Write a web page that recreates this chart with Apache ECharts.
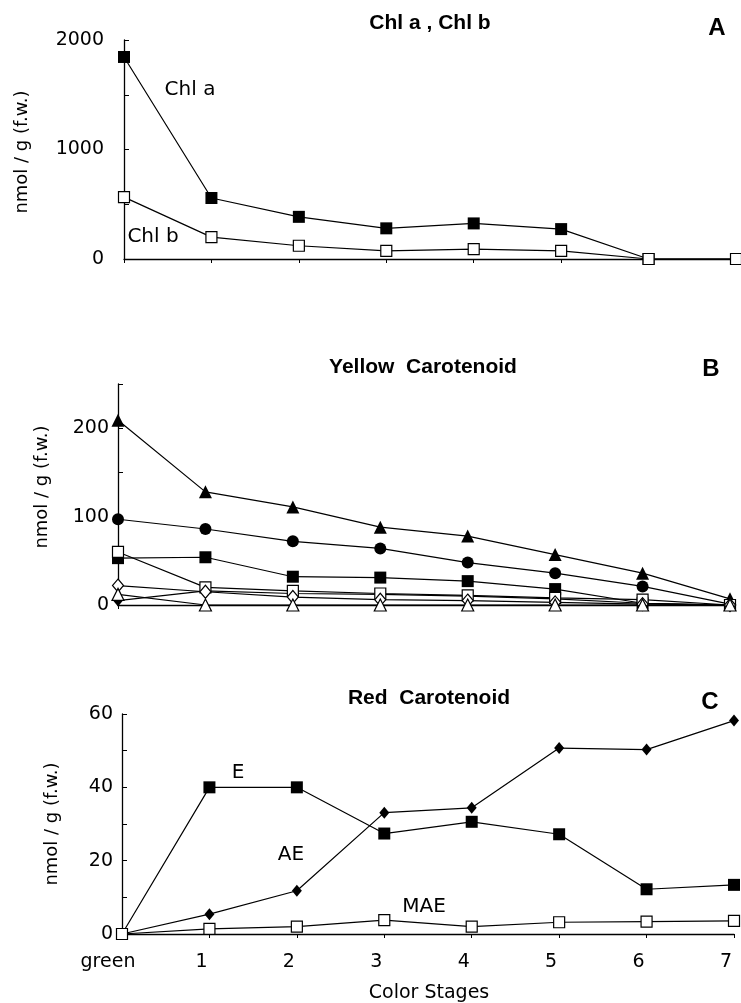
<!DOCTYPE html>
<html>
<head>
<meta charset="utf-8">
<script src="https://cdn.jsdelivr.net/npm/echarts@6/dist/echarts.min.js"></script>
<style>
  html, body { margin: 0; padding: 0; background: #fff; }
  #main { width: 741px; height: 1003px; }
</style>
</head>
<body>
<div id="main"></div>
<script type="text/javascript">
    // 颜色阶段
    var stages = ['green', '1', '2', '3', '4', '5', '6', '7'];

    // A: 叶绿素
    var chlA = [1845, 557, 385, 280, 325, 273, 0, 0];
    var chlB = [565, 200, 121, 75, 91, 75, 0, 0];

    // B: 黄色类胡萝卜素
    var yFilledTri = [209, 128, 111, 88, 78, 57, 36, 7];
    var yFilledCircle = [97, 86, 72, 64, 48, 36, 21, 1];
    var yFilledSquare = [53, 54, 32, 31, 27, 18, 2, 0];
    var yFilledDiamond = [5, 16, 13, 12, 10, 7, 2, 0];
    var yOpenSquare = [60, 20, 16, 13, 11, 8, 6, 0];
    var yOpenDiamond = [22, 15, 9, 6, 5, 3, 1, 0];
    var yOpenTri = [12, 0, 0, 0, 0, 0, 0, 0];

    // C: 红色类胡萝卜素
    var redE = [0, 40, 40, 27.4, 30.6, 27.2, 12.2, 13.4];
    var redAE = [0, 5.4, 11.8, 33.1, 34.4, 50.7, 50.3, 58.2];
    var redMAE = [0, 1.4, 2.0, 3.8, 2.0, 3.2, 3.4, 3.6];

    var myChart = echarts.init(document.getElementById('main'));

    var black = '#000';

    function xAxisFor(idx, showLabel) {
        return {
            type: 'category',
            gridIndex: idx,
            data: stages,
            boundaryGap: false,
            axisLine: { lineStyle: { color: black, width: 1.3 } },
            axisTick: { show: true, interval: 0, length: 4, lineStyle: { color: black } },
            axisLabel: {
                show: showLabel,
                interval: 0,
                margin: 19,
                color: black,
                fontFamily: 'DejaVu Sans',
                fontSize: 19,
                formatter: function (v) {
                    return v === 'green' ? '{g|' + v + '}' : '{n|' + v + '}';
                },
                rich: {
                    g: { fontFamily: 'DejaVu Sans', fontSize: 19, color: black, padding: [0, 28, 0, 0] },
                    n: { fontFamily: 'DejaVu Sans', fontSize: 19, color: black, padding: [0, 16, 0, 0] }
                }
            },
            splitLine: { show: false }
        };
    }

    function yAxisFor(idx, max, interval, labelStep, margin) {
        return {
            type: 'value',
            gridIndex: idx,
            min: 0,
            max: max,
            interval: interval,
            axisLine: { show: true, lineStyle: { color: black, width: 1.3 } },
            axisTick: { show: true, inside: true, length: 5, lineStyle: { color: black } },
            axisLabel: {
                margin: margin,
                color: black,
                fontFamily: 'DejaVu Sans',
                fontSize: 19,
                formatter: function (v) { return v % labelStep === 0 ? String(v) : ''; }
            },
            splitLine: { show: false }
        };
    }

    function line(idx, data, symbol, size, filled) {
        return {
            type: 'line',
            xAxisIndex: idx,
            yAxisIndex: idx,
            data: data,
            symbol: symbol,
            symbolSize: size,
            showSymbol: true,
            lineStyle: { color: black, width: 1.2 },
            itemStyle: filled
                ? { color: black, borderColor: black, borderWidth: 0 }
                : { color: '#fff', borderColor: black, borderWidth: 1.2 },
            emphasis: { disabled: true }
        };
    }

    function txt(x, y, s, font, rot) {
        return {
            type: 'text',
            x: x,
            y: y,
            rotation: rot || 0,
            style: { text: s, font: font, fill: black, align: 'center', verticalAlign: 'middle' }
        };
    }

    var titleFont = 'bold 21px "Liberation Sans"';
    var letterFont = 'bold 24px "Liberation Sans"';
    var noteFont = '20px "DejaVu Sans"';
    var nameFont = '18px "DejaVu Sans"';

    var option = {
        animation: false,
        backgroundColor: '#fff',
        grid: [
            { left: 124, right: 5, top: 40, height: 219 },
            { left: 118, right: 11, top: 384, height: 221 },
            { left: 122, right: 7, top: 714, height: 220 }
        ],
        xAxis: [xAxisFor(0, false), xAxisFor(1, false), xAxisFor(2, true)],
        yAxis: [
            yAxisFor(0, 2000, 500, 1000, 20),
            yAxisFor(1, 250, 50, 100, 9),
            yAxisFor(2, 60, 10, 20, 9)
        ],
        series: [
            line(0, chlA, 'rect', 12, true),
            line(0, chlB, 'rect', 11, false),

            line(1, yFilledTri, 'triangle', 13, true),
            line(1, yFilledCircle, 'circle', 12, true),
            line(1, yFilledSquare, 'rect', 12, true),
            line(1, yFilledDiamond, 'diamond', [10, 12], true),
            line(1, yOpenSquare, 'rect', 11, false),
            line(1, yOpenDiamond, 'diamond', [11, 13], false),
            line(1, yOpenTri, 'triangle', 12, false),

            line(2, redE, 'rect', 12, true),
            line(2, redAE, 'diamond', [10, 12], true),
            line(2, redMAE, 'rect', 11, false)
        ],
        graphic: [
            txt(430, 23, 'Chl a , Chl b', titleFont),
            txt(717, 28, 'A', letterFont),
            txt(423, 367, 'Yellow  Carotenoid', titleFont),
            txt(711, 369, 'B', letterFont),
            txt(429, 698, 'Red  Carotenoid', titleFont),
            txt(710, 702, 'C', letterFont),

            txt(22, 152, 'nmol / g (f.w.)', nameFont, Math.PI / 2),
            txt(42, 487, 'nmol / g (f.w.)', nameFont, Math.PI / 2),
            txt(52, 824, 'nmol / g (f.w.)', nameFont, Math.PI / 2),

            txt(190, 90, 'Chl a', noteFont),
            txt(153, 237, 'Chl b', noteFont),
            txt(238, 773, 'E', noteFont),
            txt(291, 855, 'AE', noteFont),
            txt(424, 907, 'MAE', noteFont),

            txt(429, 993, 'Color Stages', '19px "DejaVu Sans"')
        ]
    };

    myChart.setOption(option);
</script>
</body>
</html>
